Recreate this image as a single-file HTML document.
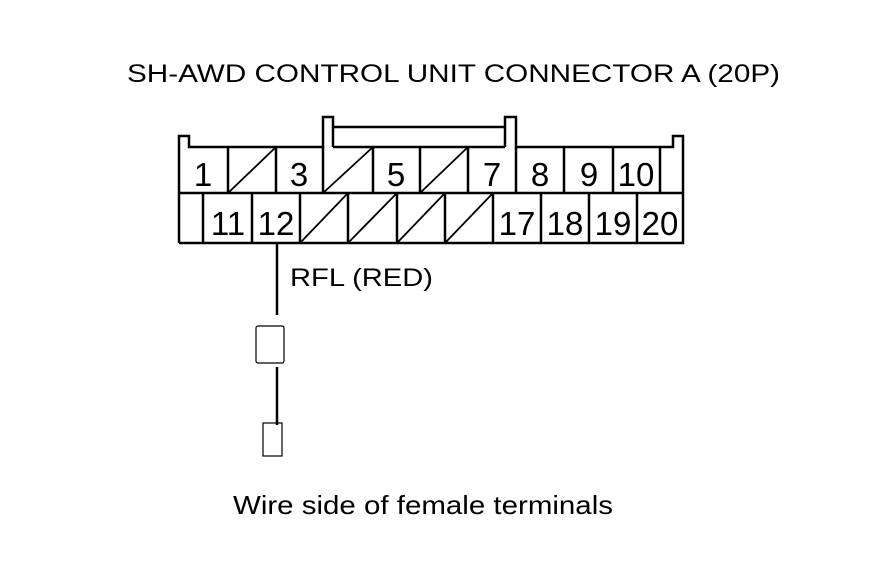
<!DOCTYPE html>
<html><head><meta charset="utf-8"><style>html,body{margin:0;padding:0;background:#fff}svg{display:block}</style></head>
<body>
<svg width="880" height="580" viewBox="0 0 880 580" xmlns="http://www.w3.org/2000/svg" font-family="Liberation Sans, sans-serif" fill="#000">
<rect width="880" height="580" fill="#fff"/>
<text x="127" y="82" font-size="25" textLength="653" lengthAdjust="spacingAndGlyphs">SH-AWD CONTROL UNIT CONNECTOR A (20P)</text>
<g stroke="#000" stroke-width="2.5" fill="none">
<path d="M179,243 V136 H189 V147 H323 V117 H333 V147"/>
<path d="M505,147 V117 H516 V147 H673 V136 H683 V243 H179"/>
<line x1="333" y1="127" x2="505" y2="127"/>
<line x1="333" y1="147" x2="505" y2="147"/>
<line x1="179" y1="193" x2="683" y2="193"/>
<path d="M228,147V193 M276,147V193 M323,147V193 M373,147V193 M420,147V193 M468,147V193 M516,147V193 M564,147V193 M613,147V193 M660,147V193"/>
<path d="M203,193V243 M252,193V243 M300,193V243 M348,193V243 M397,193V243 M445,193V243 M493,193V243 M541,193V243 M589,193V243 M637,193V243"/>
</g>
<g stroke="#000" stroke-width="1.8">
<line x1="228" y1="193" x2="276" y2="147"/>
<line x1="323" y1="193" x2="373" y2="147"/>
<line x1="420" y1="193" x2="468" y2="147"/>
<line x1="300" y1="243" x2="348" y2="193"/>
<line x1="348" y1="243" x2="397" y2="193"/>
<line x1="397" y1="243" x2="445" y2="193"/>
<line x1="445" y1="243" x2="493" y2="193"/>
</g>
<g font-size="33" text-anchor="middle">
<text x="203" y="186">1</text>
<text x="299" y="186">3</text>
<text x="396" y="186">5</text>
<text x="492" y="186">7</text>
<text x="540" y="186">8</text>
<text x="589" y="186">9</text>
<text x="636" y="186">10</text>
<text x="228" y="235">11</text>
<text x="276" y="235">12</text>
<text x="517" y="235">17</text>
<text x="565" y="235">18</text>
<text x="613" y="235">19</text>
<text x="660" y="235">20</text>
</g>
<g stroke="#000" fill="none">
<line x1="277" y1="243" x2="277" y2="315" stroke-width="2.5"/>
<rect x="256" y="326" width="28" height="37" rx="2" stroke-width="1.2"/>
<line x1="277" y1="367" x2="277" y2="425" stroke-width="2.5"/>
<rect x="263" y="423" width="19" height="33" stroke-width="1.2"/>
</g>
<text x="290" y="286" font-size="25" textLength="143" lengthAdjust="spacingAndGlyphs">RFL (RED)</text>
<text x="233" y="514" font-size="26" textLength="380" lengthAdjust="spacingAndGlyphs">Wire side of female terminals</text>
</svg>
</body></html>
